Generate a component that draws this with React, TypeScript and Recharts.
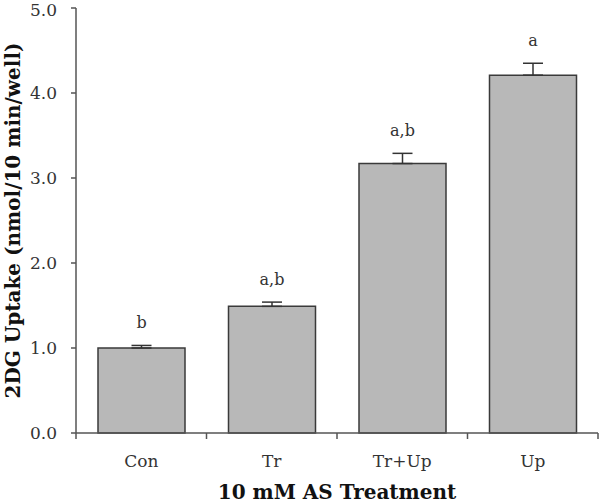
import { BarChart, Bar, XAxis, YAxis, ErrorBar, LabelList } from 'recharts'

const treatments = ['Con', 'Tr', 'Tr+Up', 'Up']
const uptake = [1.0, 1.49, 3.17, 4.21]
const sem = [0.03, 0.05, 0.12, 0.14]
const letters = ['b', 'a,b', 'a,b', 'a']
const yTicks = [0, 1, 2, 3, 4, 5]

const data = treatments.map((name, i) => ({
  name,
  uptake: uptake[i],
  err: [0, sem[i]],
  errTop: sem[i],
  letter: letters[i],
}))

const FONT = '"DejaVu Serif", serif'
const AXIS = '#555'
const TEXT = '#333'

// category tick: label at the centre, tick marks on the category boundaries
const CategoryTick = (props: any) => {
  const { x, y, payload, index, width, visibleTicksCount } = props
  const band = width / visibleTicksCount
  const axisY = y - 22
  const left = x - band / 2
  const right = x + band / 2
  return (
    <g>
      <line x1={left} x2={left} y1={axisY} y2={axisY + 6} stroke={AXIS} strokeWidth={1.5} />
      {index === visibleTicksCount - 1 && (
        <line x1={right} x2={right} y1={axisY} y2={axisY + 6} stroke={AXIS} strokeWidth={1.5} />
      )}
      <text x={x} y={y} dy="0.71em" textAnchor="middle" fill={TEXT} fontSize={17} fontFamily={FONT}>
        {payload.value}
      </text>
    </g>
  )
}

export default function App() {
  return (
    <div style={{ position: 'absolute', left: 0, top: 0, background: '#fff' }}>
      <BarChart
        width={600}
        height={503}
        data={data}
        margin={{ top: 8, right: 2, left: 0, bottom: 0 }}
      >
        <XAxis
          dataKey="name"
          height={70}
          tickLine={false}
          axisLine={{ stroke: AXIS, strokeWidth: 1.5 }}
          tickSize={6}
          tickMargin={16}
          interval={0}
          tick={<CategoryTick />}
          label={{
            content: ({ viewBox }: any) => (
              <text
                x={viewBox.x + viewBox.width / 2}
                y={viewBox.y + 66}
                textAnchor="middle"
                fill="#111"
                fontSize={20}
                fontWeight="bold"
                fontFamily={FONT}
              >
                10 mM AS Treatment
              </text>
            ),
          }}
        />
        <YAxis
          domain={[0, 5]}
          ticks={yTicks}
          width={76}
          tickFormatter={(v: number) => v.toFixed(1)}
          tickSize={5}
          tickMargin={14}
          tickLine={{ stroke: AXIS, strokeWidth: 1.5 }}
          axisLine={{ stroke: AXIS, strokeWidth: 1.5 }}
          tick={{ fill: TEXT, fontSize: 17, fontFamily: FONT }}
          label={{
            content: ({ viewBox }: any) => {
              const cx = 13
              const cy = viewBox.y + viewBox.height / 2
              return (
                <text
                  x={cx}
                  y={cy}
                  transform={`rotate(-90 ${cx} ${cy})`}
                  textAnchor="middle"
                  dominantBaseline="central"
                  fill="#111"
                  fontSize={20}
                  fontWeight="bold"
                  fontFamily={FONT}
                >
                  2DG Uptake (nmol/10 min/well)
                </text>
              )
            },
          }}
        />
        <Bar
          dataKey="uptake"
          stackId="s"
          barSize={87}
          fill="#b8b8b8"
          stroke="#3a3a3a"
          strokeWidth={1.5}
          isAnimationActive={false}
        >
          <ErrorBar dataKey="err" direction="y" width={10} stroke="#333" strokeWidth={1.5} />
        </Bar>
        <Bar
          dataKey="errTop"
          stackId="s"
          barSize={87}
          fill="none"
          isAnimationActive={false}
        >
          <LabelList
            dataKey="letter"
            position="top"
            offset={17}
            fill={TEXT}
            fontSize={16}
            fontFamily={FONT}
          />
        </Bar>
      </BarChart>
    </div>
  )
}
